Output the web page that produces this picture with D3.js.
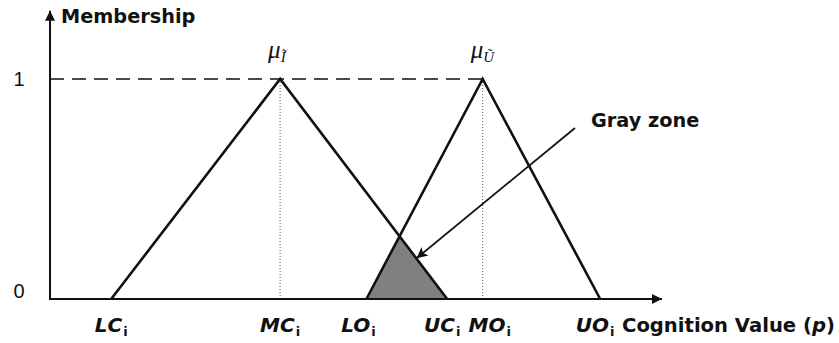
<!DOCTYPE html>
<html><head><meta charset="utf-8">
<script src="https://cdn.jsdelivr.net/npm/d3@7"></script>
<style>body{margin:0;background:#fff}svg{display:block}</style>
</head><body>
<svg id="c" width="839" height="343"></svg>
<script>
// ---- data ----
const cPoints = [1.0, 3.76, 6.49];      // LC_i, MC_i, UC_i
const oPoints = [5.17, 7.07, 8.99];     // LO_i, MO_i, UO_i
const memberships = [0, 1, 0];
const cLabels = ["LC", "MC", "UC"];
const oLabels = ["LO", "MO", "UO"];
const yTicks = [0, 1];
const xTitle = "Cognition Value (";
const yTitle = "Membership";
const grayLabel = "Gray zone";

// ---- drawing ----
const svg = d3.select("#c");
const x = d3.scaleLinear().domain([0, 10]).range([50, 662]);
const y = d3.scaleLinear().domain([0, 1]).range([299, 79]);
const ink = "#111";

const defs = svg.append("defs");
defs.append("marker").attr("id", "ah").attr("viewBox", "0 0 10 10")
  .attr("refX", 10).attr("refY", 5).attr("markerWidth", 13).attr("markerHeight", 10)
  .attr("markerUnits", "userSpaceOnUse").attr("orient", "auto")
  .append("path").attr("d", "M0,0 L10,5 L0,10 z").attr("fill", ink);
defs.append("marker").attr("id", "ah2").attr("viewBox", "0 0 10 10")
  .attr("refX", 10).attr("refY", 5).attr("markerWidth", 18).attr("markerHeight", 11)
  .attr("markerUnits", "userSpaceOnUse").attr("orient", "auto")
  .append("path").attr("d", "M0,0 L10,5 L0,10 L2.5,5 z").attr("fill", ink);

// gray zone: intersection of C's right leg and O's left leg
const c1 = [x(cPoints[1]), y(1)], c2 = [x(cPoints[2]), y(0)];
const o0 = [x(oPoints[0]), y(0)], o1 = [x(oPoints[1]), y(1)];
function inter(p1, p2, p3, p4) {
  const d = (p1[0]-p2[0])*(p3[1]-p4[1]) - (p1[1]-p2[1])*(p3[0]-p4[0]);
  const a = p1[0]*p2[1]-p1[1]*p2[0], b = p3[0]*p4[1]-p3[1]*p4[0];
  return [(a*(p3[0]-p4[0]) - (p1[0]-p2[0])*b)/d, (a*(p3[1]-p4[1]) - (p1[1]-p2[1])*b)/d];
}
const ip = inter(c1, c2, o0, o1);
svg.append("path").attr("d", d3.line()([o0, ip, c2]) + "Z").attr("fill", "#808080");

// dashed line at membership 1
svg.append("line").attr("x1", x(0)).attr("x2", x(oPoints[1])).attr("y1", y(1)).attr("y2", y(1))
  .attr("stroke", ink).attr("stroke-width", 1.6).attr("stroke-dasharray", "14,8");

// dotted verticals
[cPoints[1], oPoints[1]].forEach(v => {
  svg.append("line").attr("x1", x(v)).attr("x2", x(v)).attr("y1", y(1)).attr("y2", y(0))
    .attr("stroke", "#555").attr("stroke-width", 1).attr("stroke-dasharray", "1,2");
});

// triangles
const line = d3.line().x(d => x(d[0])).y(d => y(d[1]));
[cPoints, oPoints].forEach(pts => {
  svg.append("path").attr("d", line(pts.map((p, i) => [p, memberships[i]])))
    .attr("fill", "none").attr("stroke", ink).attr("stroke-width", 2.6).attr("stroke-linejoin", "miter");
});

// axes
svg.append("line").attr("x1", x(0)).attr("y1", y(0)).attr("x2", x(10)).attr("y2", y(0))
  .attr("stroke", ink).attr("stroke-width", 2).attr("marker-end", "url(#ah)");
svg.append("line").attr("x1", x(0)).attr("y1", y(0) + 1).attr("x2", x(0)).attr("y2", y(1.31))
  .attr("stroke", ink).attr("stroke-width", 2).attr("marker-end", "url(#ah)");

// y tick labels
svg.selectAll(".yt").data(yTicks).enter().append("text")
  .attr("x", 19).attr("y", d => y(d) + (d === 0 ? -1 : 7))
  .attr("text-anchor", "middle").attr("font-family", "Liberation Sans, Arial, sans-serif")
  .attr("font-size", 20).attr("fill", ink).text(d => d);

// y title
svg.append("text").attr("x", 61).attr("y", 23).attr("font-family", "DejaVu Sans, sans-serif")
  .attr("font-weight", "bold").attr("font-size", 19.3).attr("fill", ink).text(yTitle);

// x labels
const lblFont = "DejaVu Sans, sans-serif";
function subLabel(xc, base, anchor) {
  const t = svg.append("text").attr("x", xc).attr("y", 332).attr("text-anchor", anchor)
    .attr("font-family", lblFont).attr("font-weight", "bold").attr("font-style", "italic")
    .attr("font-size", 20).attr("fill", ink);
  t.append("tspan").text(base);
  t.append("tspan").attr("font-size", 13).attr("font-style", "normal").attr("dx", 1).attr("dy", 4).text("i");
  return t;
}
const cOff = [0, 0, -5];
const oOff = [-8, 7, -5];
cPoints.forEach((v, i) => subLabel(x(v) + cOff[i], cLabels[i], "middle"));
oPoints.forEach((v, i) => subLabel(x(v) + oOff[i], oLabels[i], "middle"));

// x title
const xt = svg.append("text").attr("x", 622).attr("y", 332).attr("font-family", lblFont)
  .attr("font-weight", "bold").attr("font-size", 19.6).attr("fill", ink);
xt.append("tspan").text(xTitle);
xt.append("tspan").attr("font-style", "italic").text("p");
xt.append("tspan").text(")");

// mu labels
function mu(xc, sub) {
  const t = svg.append("text").attr("x", xc - 12).attr("y", 58)
    .attr("font-family", "Liberation Serif, Times New Roman, serif").attr("font-style", "italic")
    .attr("font-size", 25).attr("fill", ink);
  t.append("tspan").text("\u03BC");
  t.append("tspan").attr("font-size", 15).attr("dy", 4).text(sub);
}
mu(x(cPoints[1]), "\u0128");
mu(x(oPoints[1]), "\u0168");

// gray zone annotation
svg.append("text").attr("x", 591).attr("y", 127).attr("font-family", lblFont)
  .attr("font-weight", "bold").attr("font-size", 19.3).attr("fill", ink).text(grayLabel);
svg.append("line").attr("x1", 575).attr("y1", 128).attr("x2", ip[0] + 17).attr("y2", ip[1] + 22)
  .attr("stroke", ink).attr("stroke-width", 1.8).attr("marker-end", "url(#ah2)");
</script>
</body></html>
